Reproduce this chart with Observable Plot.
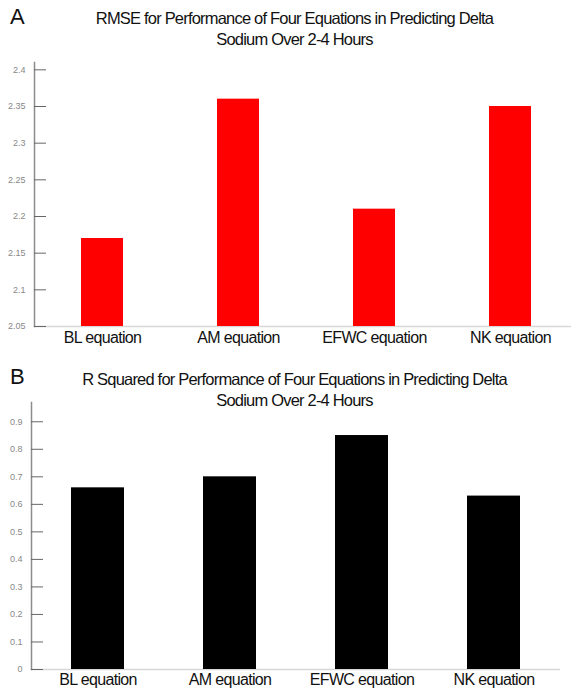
<!DOCTYPE html>
<html>
<head>
<meta charset="utf-8">
<script src="https://cdn.jsdelivr.net/npm/d3@7"></script>
<script src="https://cdn.jsdelivr.net/npm/@observablehq/plot@0.6"></script>
<style>
  html, body { margin: 0; padding: 0; background: #fff; }
  body { width: 571px; height: 689px; position: relative; overflow: hidden;
         font-family: "Liberation Sans", Arial, sans-serif; }
  .panel { position: absolute; left: 0; }
  .letter { position: absolute; left: 10px; font-family: "Liberation Sans", Arial, sans-serif; font-size: 22px; color: #111; z-index: 2; }
  .title { position: absolute; left: 0; width: 571px; text-align: center; font-size: 16.5px; letter-spacing: -0.8px; line-height: 21px; color: #111; z-index: 2; padding-left: 18px; box-sizing: border-box; }
  svg [aria-label="x-axis tick label"] text { letter-spacing: -0.65px; }
</style>
</head>
<body>
<div class="letter" style="top:4px">A</div>
<div class="title" style="top:8px">RMSE for Performance of Four Equations in Predicting Delta<br>Sodium Over 2-4 Hours</div>
<div id="a" class="panel" style="top:50px"></div>
<div class="letter" style="top:364px">B</div>
<div class="title" style="top:369px">R Squared for Performance of Four Equations in Predicting Delta<br>Sodium Over 2-4 Hours</div>
<div id="b" class="panel" style="top:395px"></div>
<script>
const categories = ["BL equation", "AM equation", "EFWC equation", "NK equation"];
const rmseValues = [2.17, 2.36, 2.21, 2.35];
const rsqValues = [0.66, 0.70, 0.85, 0.63];
const rmseTicks = [2.05, 2.1, 2.15, 2.2, 2.25, 2.3, 2.35, 2.4];
const rsqTicks = [0, 0.1, 0.2, 0.3, 0.4, 0.5, 0.6, 0.7, 0.8, 0.9];

const fmt = d => String(Math.round(d * 100) / 100);
const sans = '"Liberation Sans", Arial, sans-serif';

function makePanel({values, ticks, yDomain, fill, height, marginTop, marginBottom, marginLeft, marginRight, xRange, pi, po, labelPad}) {
  const rows = categories.map((c, i) => ({c, v: values[i]}));
  const base = yDomain[0];
  return Plot.plot({
    width: 571, height, marginTop, marginBottom, marginLeft, marginRight,
    style: {background: "transparent", overflow: "visible", fontFamily: sans},
    x: {domain: categories, range: xRange, paddingInner: pi, paddingOuter: po, label: null},
    y: {domain: yDomain, label: null},
    marks: [
      Plot.ruleY([base], {stroke: "#d8d8d8", strokeWidth: 1.5}),
      Plot.barY(rows, {x: "c", y1: base, y2: "v", fill}),
      Plot.frame({anchor: "left", stroke: "#8c8c8c", strokeWidth: 1.5}),
      Plot.axisY(ticks, {tickSize: 12, dx: 12, text: null, stroke: "#666", label: null}),
      Plot.axisY(ticks, {tickSize: 0, tickPadding: 9, fontSize: 9, fill: "#888", tickFormat: fmt, label: null}),
      Plot.axisX({tickSize: 0, tickPadding: labelPad, fontSize: 16, fill: "#111", label: null})
    ]
  });
}

document.getElementById("a").append(makePanel({
  values: rmseValues, ticks: rmseTicks, yDomain: [2.05, 2.41], fill: "#ff0000",
  height: 300, marginTop: 12, marginBottom: 24, marginLeft: 34, marginRight: 0,
  xRange: [34, 578], pi: 0.69, po: 0.345, labelPad: 5
}));
document.getElementById("b").append(makePanel({
  values: rsqValues, ticks: rsqTicks, yDomain: [0, 0.97], fill: "#000000",
  height: 294, marginTop: 7, marginBottom: 20, marginLeft: 31, marginRight: 11,
  xRange: [31, 559], pi: 0.6, po: 0.3, labelPad: 4
}));
</script>
</body>
</html>
